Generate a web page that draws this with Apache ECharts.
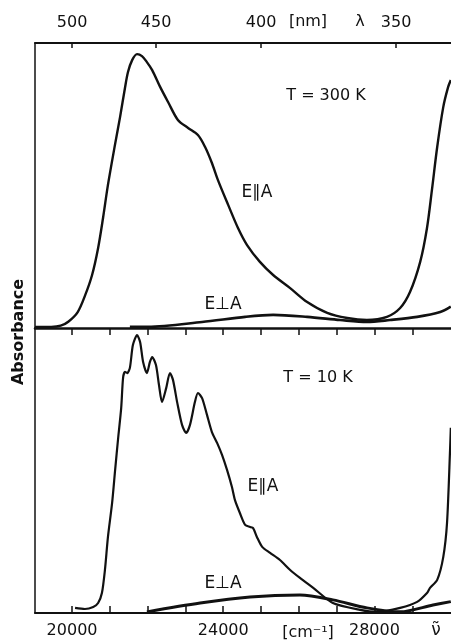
<!DOCTYPE html>
<html>
<head>
<meta charset="utf-8">
<script src="https://cdn.jsdelivr.net/npm/echarts@6/dist/echarts.min.js"></script>
<style>
  html, body { margin: 0; padding: 0; background: #fff; }
  #main { width: 451px; height: 642px; }
</style>
</head>
<body>
<div id="main"></div>
<script>
// wavenumber (cm-1) / absorbance (arb. units, 0..1 per panel)
const topParWn = [19020, 19450, 19700, 19900, 20150, 20350, 20530, 20690, 20820, 20950, 21140, 21270, 21400, 21480, 21590, 21720, 21850, 21980, 22120, 22330, 22540, 22800, 23070, 23330, 23520, 23700, 23860, 24130, 24390, 24630, 24970, 25320, 25770, 26220, 26750, 27280, 27800, 28330, 28680, 28940, 29210, 29390, 29520, 29660, 29820, 29950, 30020];
const topParAbs = [0.004, 0.004, 0.008, 0.022, 0.056, 0.116, 0.186, 0.281, 0.386, 0.502, 0.646, 0.740, 0.842, 0.898, 0.940, 0.961, 0.954, 0.933, 0.905, 0.846, 0.793, 0.730, 0.702, 0.677, 0.635, 0.579, 0.519, 0.432, 0.351, 0.291, 0.232, 0.186, 0.140, 0.091, 0.053, 0.035, 0.028, 0.039, 0.070, 0.126, 0.232, 0.351, 0.484, 0.635, 0.775, 0.846, 0.87];

const topPerpWn = [21530, 22010, 23440, 24580, 25320, 26220, 27090, 27800, 28410, 29130, 29740, 30020];
const topPerpAbs = [0.004, 0.004, 0.021, 0.039, 0.046, 0.039, 0.028, 0.021, 0.028, 0.039, 0.056, 0.075];

const botParWn = [20080, 20340, 20560, 20690, 20790, 20870, 20950, 21060, 21140, 21220, 21300, 21350, 21400, 21460, 21530, 21610, 21720, 21800, 21880, 21980, 22060, 22120, 22220, 22300, 22380, 22490, 22590, 22670, 22780, 22910, 23020, 23120, 23250, 23330, 23440, 23570, 23700, 23840, 23970, 24100, 24230, 24310, 24440, 24580, 24710, 24790, 24890, 25030, 25240, 25500, 25770, 26030, 26380, 26900, 27620, 28070, 28680, 29130, 29390, 29470, 29660, 29820, 29920, 30000, 30020];
const botParAbs = [0.018, 0.014, 0.021, 0.035, 0.070, 0.151, 0.267, 0.386, 0.502, 0.614, 0.719, 0.825, 0.846, 0.842, 0.860, 0.940, 0.975, 0.951, 0.881, 0.842, 0.881, 0.898, 0.870, 0.800, 0.740, 0.789, 0.842, 0.818, 0.740, 0.660, 0.632, 0.660, 0.740, 0.772, 0.754, 0.695, 0.635, 0.596, 0.554, 0.502, 0.442, 0.396, 0.351, 0.309, 0.302, 0.298, 0.267, 0.232, 0.211, 0.186, 0.151, 0.123, 0.088, 0.035, 0.011, 0.004, 0.018, 0.039, 0.070, 0.088, 0.116, 0.196, 0.316, 0.572, 0.65];

const botPerpWn = [21980, 23390, 24710, 26030, 26900, 27800, 28680, 29550, 30020];
const botPerpAbs = [0.004, 0.035, 0.056, 0.063, 0.046, 0.018, 0.004, 0.028, 0.04];

// axis ticks
const wnTicks = [20000, 21000, 22000, 23000, 24000, 25000, 26000, 27000, 28000, 29000];
const wnLabels = [20000, 24000, 28000];
const nmLabels = [500, 450, 400, 350];

const zip = (xs, ys) => xs.map((x, i) => [x, ys[i]]);

const FONT = 'DejaVu Sans';
const INK = '#111';
const xMin = 19020, xMax = 30025;

const nmPos = nmLabels.map(l => 1e7 / l);

function txt(text, x, y, size, extra) {
  return Object.assign({
    type: 'text', x: x, y: y,
    style: {
      text: text, fill: INK, fontSize: size, fontFamily: FONT,
      textAlign: 'center', textVerticalAlign: 'middle',
      align: 'center', verticalAlign: 'middle'
    }
  }, extra || {});
}

let myechart = echarts.init(document.getElementById('main'));
let option = {
  animation: false,
  backgroundColor: '#fff',
  grid: [
    { left: 35, right: 0, top: 43, height: 285 },
    { left: 35, right: 0, top: 328, height: 285 }
  ],
  xAxis: [
    { // wavelength scale on top
      type: 'value', gridIndex: 0, position: 'top', min: xMin, max: xMax,
      axisLine: { onZero: false, lineStyle: { color: INK, width: 2 } },
      axisTick: { inside: true, length: 5, customValues: nmPos, lineStyle: { color: INK, width: 1.5 } },
      axisLabel: {
        customValues: nmPos, margin: 12, color: INK, fontSize: 16, fontFamily: FONT,
        formatter: v => String(Math.round(1e7 / v))
      },
      splitLine: { show: false }
    },
    { // middle line
      type: 'value', gridIndex: 0, position: 'bottom', min: xMin, max: xMax,
      axisLine: { onZero: false, lineStyle: { color: INK, width: 2.5 } },
      axisTick: { inside: false, length: 7, customValues: wnTicks, lineStyle: { color: INK, width: 1.5 } },
      axisLabel: { show: false },
      splitLine: { show: false }
    },
    { // wavenumber scale at bottom
      type: 'value', gridIndex: 1, position: 'bottom', min: xMin, max: xMax,
      axisLine: { onZero: false, lineStyle: { color: INK, width: 2 } },
      axisTick: { inside: true, length: 7, customValues: wnTicks, lineStyle: { color: INK, width: 1.5 } },
      axisLabel: {
        customValues: wnLabels, margin: 10, color: INK, fontSize: 16, fontFamily: FONT,
        formatter: v => String(v)
      },
      splitLine: { show: false }
    }
  ],
  yAxis: [
    { type: 'value', gridIndex: 0, min: 0, max: 1,
      axisLine: { show: true, onZero: false, lineStyle: { color: INK, width: 1.5 } },
      axisTick: { show: false }, axisLabel: { show: false }, splitLine: { show: false } },
    { type: 'value', gridIndex: 1, min: 0, max: 1,
      axisLine: { show: true, onZero: false, lineStyle: { color: INK, width: 1.5 } },
      axisTick: { show: false }, axisLabel: { show: false }, splitLine: { show: false } }
  ],
  series: [
    { name: 'E||A 300K', type: 'line', xAxisIndex: 0, yAxisIndex: 0, data: zip(topParWn, topParAbs),
      smooth: 0.3, symbol: 'none', lineStyle: { color: INK, width: 2.4 } },
    { name: 'E⊥A 300K', type: 'line', xAxisIndex: 0, yAxisIndex: 0, data: zip(topPerpWn, topPerpAbs),
      smooth: 0.3, symbol: 'none', lineStyle: { color: INK, width: 2.6 } },
    { name: 'E||A 10K', type: 'line', xAxisIndex: 2, yAxisIndex: 1, data: zip(botParWn, botParAbs),
      smooth: 0.25, symbol: 'none', lineStyle: { color: INK, width: 2.2 } },
    { name: 'E⊥A 10K', type: 'line', xAxisIndex: 2, yAxisIndex: 1, data: zip(botPerpWn, botPerpAbs),
      smooth: 0.3, symbol: 'none', lineStyle: { color: INK, width: 3 } }
  ],
  graphic: [
    txt('Absorbance', 19, 332, 16, { rotation: Math.PI / 2, style: {
      text: 'Absorbance', fill: INK, fontSize: 16, fontWeight: 'bold', fontFamily: FONT,
      textAlign: 'center', textVerticalAlign: 'middle', align: 'center', verticalAlign: 'middle' } }),
    txt('[nm]', 308, 22, 16),
    txt('λ', 360, 22, 16),
    txt('[cm⁻¹]', 308, 633, 16),
    txt('ν̃', 436, 631, 17),
    txt('T = 300 K', 326, 96, 16),
    txt('E∥A', 257, 193, 17),
    txt('E⊥A', 223, 305, 17),
    txt('T = 10 K', 318, 378, 16),
    txt('E∥A', 263, 487, 17),
    txt('E⊥A', 223, 584, 17)
  ]
};
myechart.setOption(option);
</script>
</body>
</html>
